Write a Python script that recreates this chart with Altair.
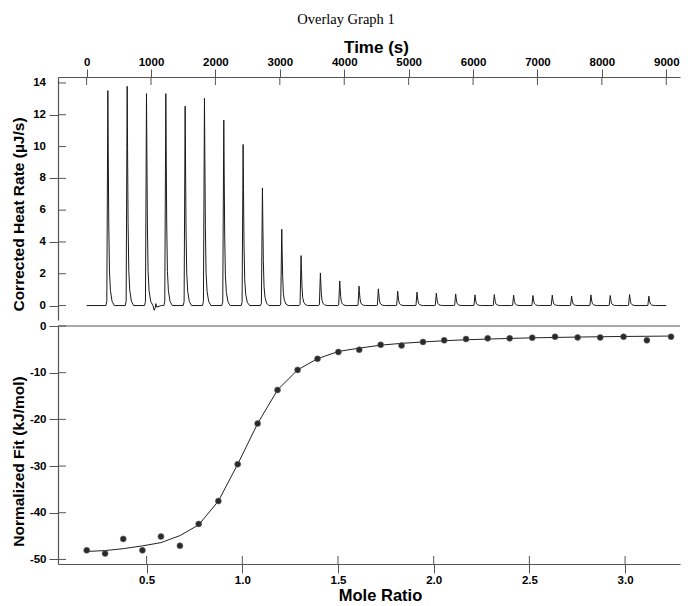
import altair as alt
import pandas as pd

# ---------------- data ----------------
# Thermogram (top panel): injection onset times (s) and peak heights (uJ/s)
inj_time = [300, 600, 900, 1200, 1500, 1800, 2100, 2400, 2700, 3000,
            3300, 3600, 3900, 4200, 4500, 4800, 5100, 5400, 5700, 6000,
            6300, 6600, 6900, 7200, 7500, 7800, 8100, 8400, 8700]
peak_height = [13.52, 13.79, 13.33, 13.33, 12.54, 13.04, 11.66, 10.13, 7.40, 4.80,
               3.14, 2.05, 1.55, 1.22, 1.05, 0.90, 0.84, 0.78, 0.73, 0.67,
               0.69, 0.65, 0.63, 0.65, 0.59, 0.67, 0.63, 0.69, 0.59]
# shape of one injection peak (seconds after onset, fraction of height)
shape_dt = [0, 14, 30, 36, 44, 55, 70, 95, 130]
shape_frac = [0.0, 0.02, 1.0, 0.72, 0.38, 0.16, 0.07, 0.02, 0.0]
# small artefact seen after the 3rd injection (seconds after onset, uJ/s)
artefact_dt = [150, 165, 175, 190, 225, 260]
artefact_val = [-0.30, -0.15, 0.12, -0.10, -0.05, 0.0]
trace_start = 0
trace_end = 9000

# Integrated heats (bottom panel)
mole_ratio = [0.187, 0.283, 0.378, 0.478, 0.575, 0.674, 0.772, 0.875, 0.976, 1.080,
              1.184, 1.289, 1.393, 1.502, 1.611, 1.723, 1.832, 1.944, 2.055, 2.169,
              2.282, 2.397, 2.515, 2.634, 2.752, 2.870, 2.992, 3.114, 3.240]
heat = [-48.05, -48.74, -45.6, -48.05, -45.1, -47.07, -42.4, -37.5, -29.6, -20.9,
        -13.7, -9.4, -7.04, -5.57, -5.09, -4.04, -4.18, -3.42, -3.07, -2.79,
        -2.65, -2.65, -2.51, -2.30, -2.44, -2.44, -2.30, -3.07, -2.30]
fit = [-48.3, -48.1, -47.7, -47.1, -46.4, -44.9, -42.6, -37.5, -29.6, -20.9,
       -13.7, -9.4, -7.0, -5.45, -4.74, -4.10, -3.72, -3.42, -3.15, -2.95,
       -2.80, -2.66, -2.54, -2.45, -2.37, -2.30, -2.24, -2.20, -2.15]

time_ticks = [0, 1000, 2000, 3000, 4000, 5000, 6000, 7000, 8000, 9000]
rate_ticks = [0, 2, 4, 6, 8, 10, 12, 14]
ratio_ticks = [0.5, 1.0, 1.5, 2.0, 2.5, 3.0]
fit_ticks = [0, -10, -20, -30, -40, -50]

# ---------------- build the trace table ----------------
t_list, r_list = [trace_start], [0.0]
for i, (t0, h) in enumerate(zip(inj_time, peak_height)):
    for dt, f in zip(shape_dt, shape_frac):
        t_list.append(t0 + dt)
        r_list.append(h * f)
    if i == 2:
        for dt, v in zip(artefact_dt, artefact_val):
            t_list.append(t0 + dt)
            r_list.append(v)
t_list.append(trace_end)
r_list.append(0.0)
trace = pd.DataFrame({"time": t_list, "rate": r_list})
iso = pd.DataFrame({"ratio": mole_ratio, "heat": heat, "fit": fit})

AX = "#555555"
FONT = "Liberation Sans"
W = 622
H_TOP = 243
H_BOT = 238

time_scale = alt.Scale(domain=[-444, 9213], nice=False, zero=False)
rate_scale = alt.Scale(domain=[-0.91, 14.375], nice=False, zero=False)
ratio_scale = alt.Scale(domain=[0.037, 3.287], nice=False, zero=False)
fit_scale = alt.Scale(domain=[-50.98, 0], nice=False, zero=False)

neg_label = "datum.value < 0 ? '-' + abs(datum.value) : '' + datum.value"

# ---------------- top panel ----------------
top_line = alt.Chart(trace).mark_line(color="#1a1a1a", strokeWidth=1).encode(
    x=alt.X("time:Q", scale=time_scale,
            axis=alt.Axis(orient="top", values=time_ticks, format="d", title="Time (s)",
                          tickSize=8, labelPadding=2, titleX=318, titleY=-30,
                          titleBaseline="middle", titleFontSize=17, labelFlush=False,
                          labelOverlap=False)),
    y=alt.Y("rate:Q", scale=rate_scale,
            axis=alt.Axis(values=rate_ticks, title="Corrected Heat Rate (µJ/s)",
                          tickSize=9, labels=False, titleX=-39.6, titleY=137,
                          titleAngle=270, titleBaseline="middle", titleAlign="center",
                          titleFontSize=15.5)),
)
top_xin = alt.Chart(pd.DataFrame({"time": time_ticks})).mark_rule(color=AX, strokeWidth=1).encode(
    x=alt.X("time:Q", scale=time_scale), y=alt.value(0), y2=alt.value(8))
top_yin = alt.Chart(pd.DataFrame({"rate": rate_ticks})).mark_rule(color=AX, strokeWidth=1).encode(
    y=alt.Y("rate:Q", scale=rate_scale), x=alt.value(0), x2=alt.value(8))
top_ylab = alt.Chart(pd.DataFrame({"rate": rate_ticks})).mark_text(
    align="right", baseline="middle", font=FONT, fontSize=11.5, fontWeight="bold", color="#000"
).encode(
    y=alt.Y("rate:Q", scale=rate_scale), x=alt.value(-12), text=alt.Text("rate:Q", format="d"))
top = alt.layer(top_line, top_xin, top_yin, top_ylab).properties(width=W, height=H_TOP)

# ---------------- bottom panel ----------------
bx = alt.X("ratio:Q", scale=ratio_scale,
           axis=alt.Axis(values=ratio_ticks, format=".1f", title="Mole Ratio",
                         tickSize=9, labelPadding=1.5, titleX=322, titleY=36.5,
                         titleBaseline="alphabetic", titleFontSize=16.5, labelFlush=False,
                         labelOverlap=False))
fit_line = alt.Chart(iso).mark_line(color="#222222", strokeWidth=1).encode(
    x=bx,
    y=alt.Y("fit:Q", scale=fit_scale,
            axis=alt.Axis(values=fit_ticks, title="Normalized Fit (kJ/mol)",
                          tickSize=9, labelPadding=3, titleX=-39.6, titleY=135,
                          titleAngle=270, titleBaseline="middle", titleAlign="center",
                          titleFontSize=15.5, labelExpr=neg_label, labelOverlap=False)),
)
pts = alt.Chart(iso).mark_circle(size=36, color="#2a2a2a", opacity=1,
                                 stroke="#6a6a6a", strokeWidth=0.6).encode(
    x=alt.X("ratio:Q", scale=ratio_scale),
    y=alt.Y("heat:Q", scale=fit_scale),
)
divider = alt.Chart(pd.DataFrame({"fit": [0]})).mark_rule(color=AX, strokeWidth=1.2).encode(
    y=alt.Y("fit:Q", scale=fit_scale))
bot_xin = alt.Chart(pd.DataFrame({"ratio": ratio_ticks})).mark_rule(color=AX, strokeWidth=1).encode(
    x=alt.X("ratio:Q", scale=ratio_scale), y=alt.value(H_BOT - 8), y2=alt.value(H_BOT))
bot_yin = alt.Chart(pd.DataFrame({"fit": fit_ticks})).mark_rule(color=AX, strokeWidth=1).encode(
    y=alt.Y("fit:Q", scale=fit_scale), x=alt.value(0), x2=alt.value(8))
bottom = alt.layer(fit_line, pts, divider, bot_xin, bot_yin).properties(width=W, height=H_BOT)

chart = alt.vconcat(top, bottom, spacing=0).properties(
    title=alt.TitleParams("Overlay Graph 1", font="Liberation Serif", fontSize=14.5,
                          fontWeight="normal", anchor="middle", offset=11, color="#000"),
    padding={"left": 3, "right": 0, "top": 3, "bottom": 0},
).configure_view(stroke=None).configure_axis(
    grid=False, domainColor=AX, tickColor=AX, domainWidth=1.2, tickWidth=1,
    labelFont=FONT, labelFontSize=11.5, labelFontWeight="bold", labelColor="#000",
    titleFont=FONT, titleFontWeight="bold", titleColor="#000",
)

chart.save("out.html", embed_options={"renderer": "svg", "actions": False})
